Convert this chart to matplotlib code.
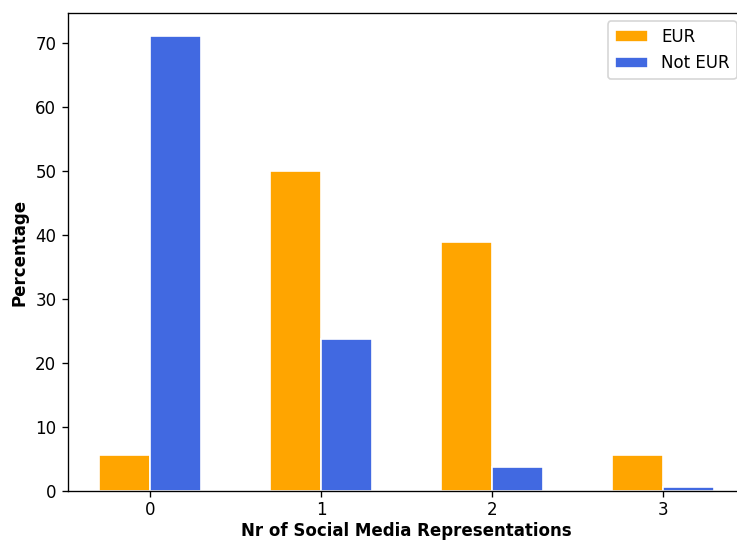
import numpy as np
import matplotlib
matplotlib.use("Agg")
import matplotlib.pyplot as plt

categories = [0, 1, 2, 3]
eur = [5.56, 50.0, 38.89, 5.56]
not_eur = [71.2, 23.7, 3.7, 0.7]

width = 0.3
x = np.arange(len(categories))

dpi = 120
fig = plt.figure(figsize=(737 / dpi, 543 / dpi), dpi=dpi)
ax = fig.add_axes([68 / 737, 52 / 543, 677 / 737, 478 / 543])

ax.bar(x - width / 2, eur, width, color="orange", edgecolor="white", label="EUR")
ax.bar(x + width / 2, not_eur, width, color="royalblue", edgecolor="white", label="Not EUR")

ax.set_xticks(x)
ax.set_xticklabels([str(c) for c in categories])
ax.tick_params(axis="x", pad=2.5)
ax.set_xlabel("Nr of Social Media Representations", fontweight="bold", labelpad=2)
ax.set_ylabel("Percentage", fontweight="bold")
ax.legend(loc="upper right")

fig.savefig("out.png", dpi=dpi)
